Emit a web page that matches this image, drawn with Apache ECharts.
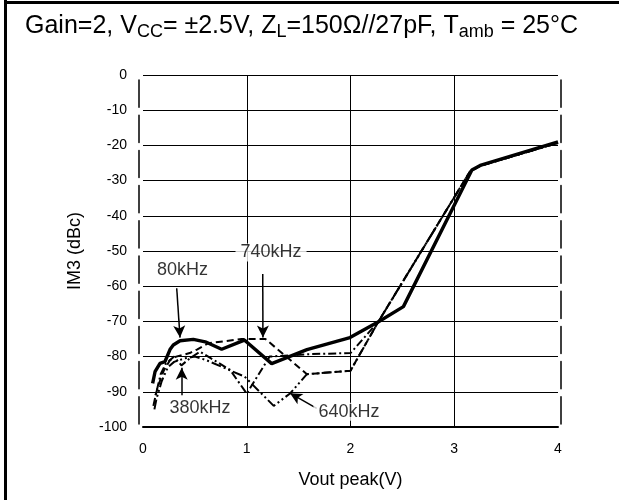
<!DOCTYPE html>
<html>
<head>
<meta charset="utf-8">
<script src="https://cdn.jsdelivr.net/npm/echarts@6/dist/echarts.min.js"></script>
<style>
html,body{margin:0;padding:0;background:#fff;}
#chart{width:619px;height:500px;}
</style>
</head>
<body>
<div id="chart"></div>
<script>
// ---- data ----
const xTicks = [0, 1, 2, 3, 4];
const yTicks = [0, -10, -20, -30, -40, -50, -60, -70, -80, -90, -100];

const x80 = [0.093, 0.116, 0.164, 0.212, 0.26, 0.292, 0.357, 0.485, 0.6, 0.758, 0.935, 0.977, 1.24, 1.58, 1.995, 2.27, 2.51, 3.17, 3.25, 4.0];
const y80 = [-87.6, -84.3, -81.9, -81.4, -78, -76.7, -75.5, -75.1, -75.8, -77.9, -75.8, -75.3, -82, -78, -74.6, -70.1, -65.8, -27, -25.7, -19];

const x740 = [0.12, 0.15, 0.2, 0.26, 0.32, 0.45, 0.52, 0.63, 0.95, 1.18, 1.58, 2.0, 2.27, 3.15, 3.25, 4.0];
const y740 = [-91, -88, -84, -81, -80, -79, -78, -76.2, -75, -75, -85, -84, -70, -27.5, -25.8, -19.3];

const x380 = [0.1, 0.13, 0.17, 0.22, 0.3, 0.37, 0.45, 0.55, 0.84, 1.0, 1.22, 1.6, 2.0, 2.27, 3.15, 3.25, 4.0];
const y380 = [-94, -90, -85, -82, -80, -82.5, -80.5, -78.6, -83.8, -90.5, -80, -79.3, -79, -70, -27.5, -25.8, -19.3];

const x640 = [0.11, 0.13, 0.18, 0.24, 0.3, 0.4, 0.5, 0.61, 0.98, 1.26, 1.42, 1.58, 2.0, 2.27, 3.15, 3.25, 4.0];
const y640 = [-95, -92, -87, -83, -81.5, -80.5, -80, -81, -85.7, -94, -90.4, -85, -84, -70, -27.5, -25.8, -19.3];

// annotation labels
const labelNames = ['80kHz', '740kHz', '380kHz', '640kHz'];
const labelX = [0.38, 1.234, 0.55, 1.985];
const labelY = [-55.4, -50.4, -94.5, -95.7];
// annotation arrows: from (x1,y1) to (x2,y2)
const arrowX1 = [0.325, 1.154, 0.373, 1.674];
const arrowY1 = [-60.6, -56.5, -91, -94.7];
const arrowX2 = [0.357, 1.156, 0.373, 1.417];
const arrowY2 = [-74.6, -74.6, -83.2, -90.4];

const titleText = 'Gain=2, V{sub|CC}= ±2.5V, Z{sub|L}=150Ω//27pF, T{sub|amb} = 25°C';
const xName = 'Vout peak(V)';
const yName = 'IM3 (dBc)';

// ---- build ----
const zip = (xs, ys) => xs.map((x, i) => [x, ys[i]]);
const FONT = 'Liberation Sans, Arial, sans-serif';

const axisDash = {color: '#000', width: 1.5, type: [27.2, 8], dashOffset: 32.2};

const chart = echarts.init(document.getElementById('chart'), null, {renderer: 'canvas'});
chart.setOption({
  animation: false,
  backgroundColor: '#fff',
  textStyle: {fontFamily: FONT},
  title: {
    text: titleText,
    left: 20, top: 6,
    textStyle: {
      fontFamily: FONT, fontSize: 25, fontWeight: 'normal', color: '#000', lineHeight: 30,
      rich: {
        sub: {fontFamily: FONT, fontSize: 18, lineHeight: 18, padding: [12, 0, 0, 0], color: '#000'}
      }
    }
  },
  graphic: [
    {type: 'rect', left: 4, top: 0, shape: {width: 3, height: 500}, style: {fill: '#000'}},
    {type: 'rect', left: 4, top: 1, shape: {width: 615, height: 3}, style: {fill: '#000'}}
  ],
  grid: {left: 143, right: 61, top: 75, bottom: 73},
  xAxis: {
    type: 'value', min: 0, max: 4, interval: 1,
    name: xName, nameLocation: 'middle', nameGap: 44,
    nameTextStyle: {fontFamily: FONT, fontSize: 18, color: '#000'},
    axisLine: {show: true, onZero: false, lineStyle: {color: '#000', width: 2}},
    axisTick: {show: false},
    axisLabel: {fontFamily: FONT, fontSize: 14, color: '#000', margin: 15},
    splitLine: {show: true, showMinLine: false, showMaxLine: false, lineStyle: {color: '#000', width: 1}}
  },
  yAxis: [{
    type: 'value', min: -100, max: 0, interval: 10, offset: 4,
    name: yName, nameLocation: 'middle', nameGap: 55, nameRotate: 90,
    nameTextStyle: {fontFamily: FONT, fontSize: 18, color: '#000'},
    axisLine: {show: true, onZero: false, lineStyle: axisDash},
    axisTick: {show: false},
    axisLabel: {fontFamily: FONT, fontSize: 14, color: '#000', margin: 12},
    splitLine: {show: true, lineStyle: {color: '#000', width: 1}}
  }, {
    type: 'value', min: -100, max: 0, interval: 10, position: 'right', offset: 3,
    axisLine: {show: true, onZero: false, lineStyle: axisDash},
    axisTick: {show: false}, axisLabel: {show: false}, splitLine: {show: false}
  }],
  series: [
    {type: 'line', name: '740kHz', data: zip(x740, y740), symbol: 'none',
     lineStyle: {color: '#000', width: 2, type: [7, 4]}},
    {type: 'line', name: '380kHz', data: zip(x380, y380), symbol: 'none',
     lineStyle: {color: '#000', width: 2, type: [8, 3, 2, 3]}},
    {type: 'line', name: '640kHz', data: zip(x640, y640), symbol: 'none',
     lineStyle: {color: '#000', width: 2, type: [10, 3, 2, 3, 2, 3]}},
    {type: 'line', name: '80kHz', data: zip(x80, y80), symbol: 'none',
     lineStyle: {color: '#000', width: 3.4}},
    {type: 'scatter', name: 'labels', symbolSize: 0, z: 5,
     data: labelNames.map((n, i) => ({value: [labelX[i], labelY[i]], name: n})),
     label: {show: true, position: 'inside', formatter: p => p.name,
             fontFamily: FONT, fontSize: 18, color: '#000',
             backgroundColor: '#fff', padding: [0, 5, 0, 5]},
     markLine: {
       silent: true, symbol: ['none', 'arrow'], symbolSize: [9, 12],
       label: {show: false},
       lineStyle: {color: '#000', width: 1.5, type: 'solid'},
       data: arrowX1.map((x, i) => [{coord: [x, arrowY1[i]]}, {coord: [arrowX2[i], arrowY2[i]]}])
     }}
  ]
});
</script>
</body>
</html>
